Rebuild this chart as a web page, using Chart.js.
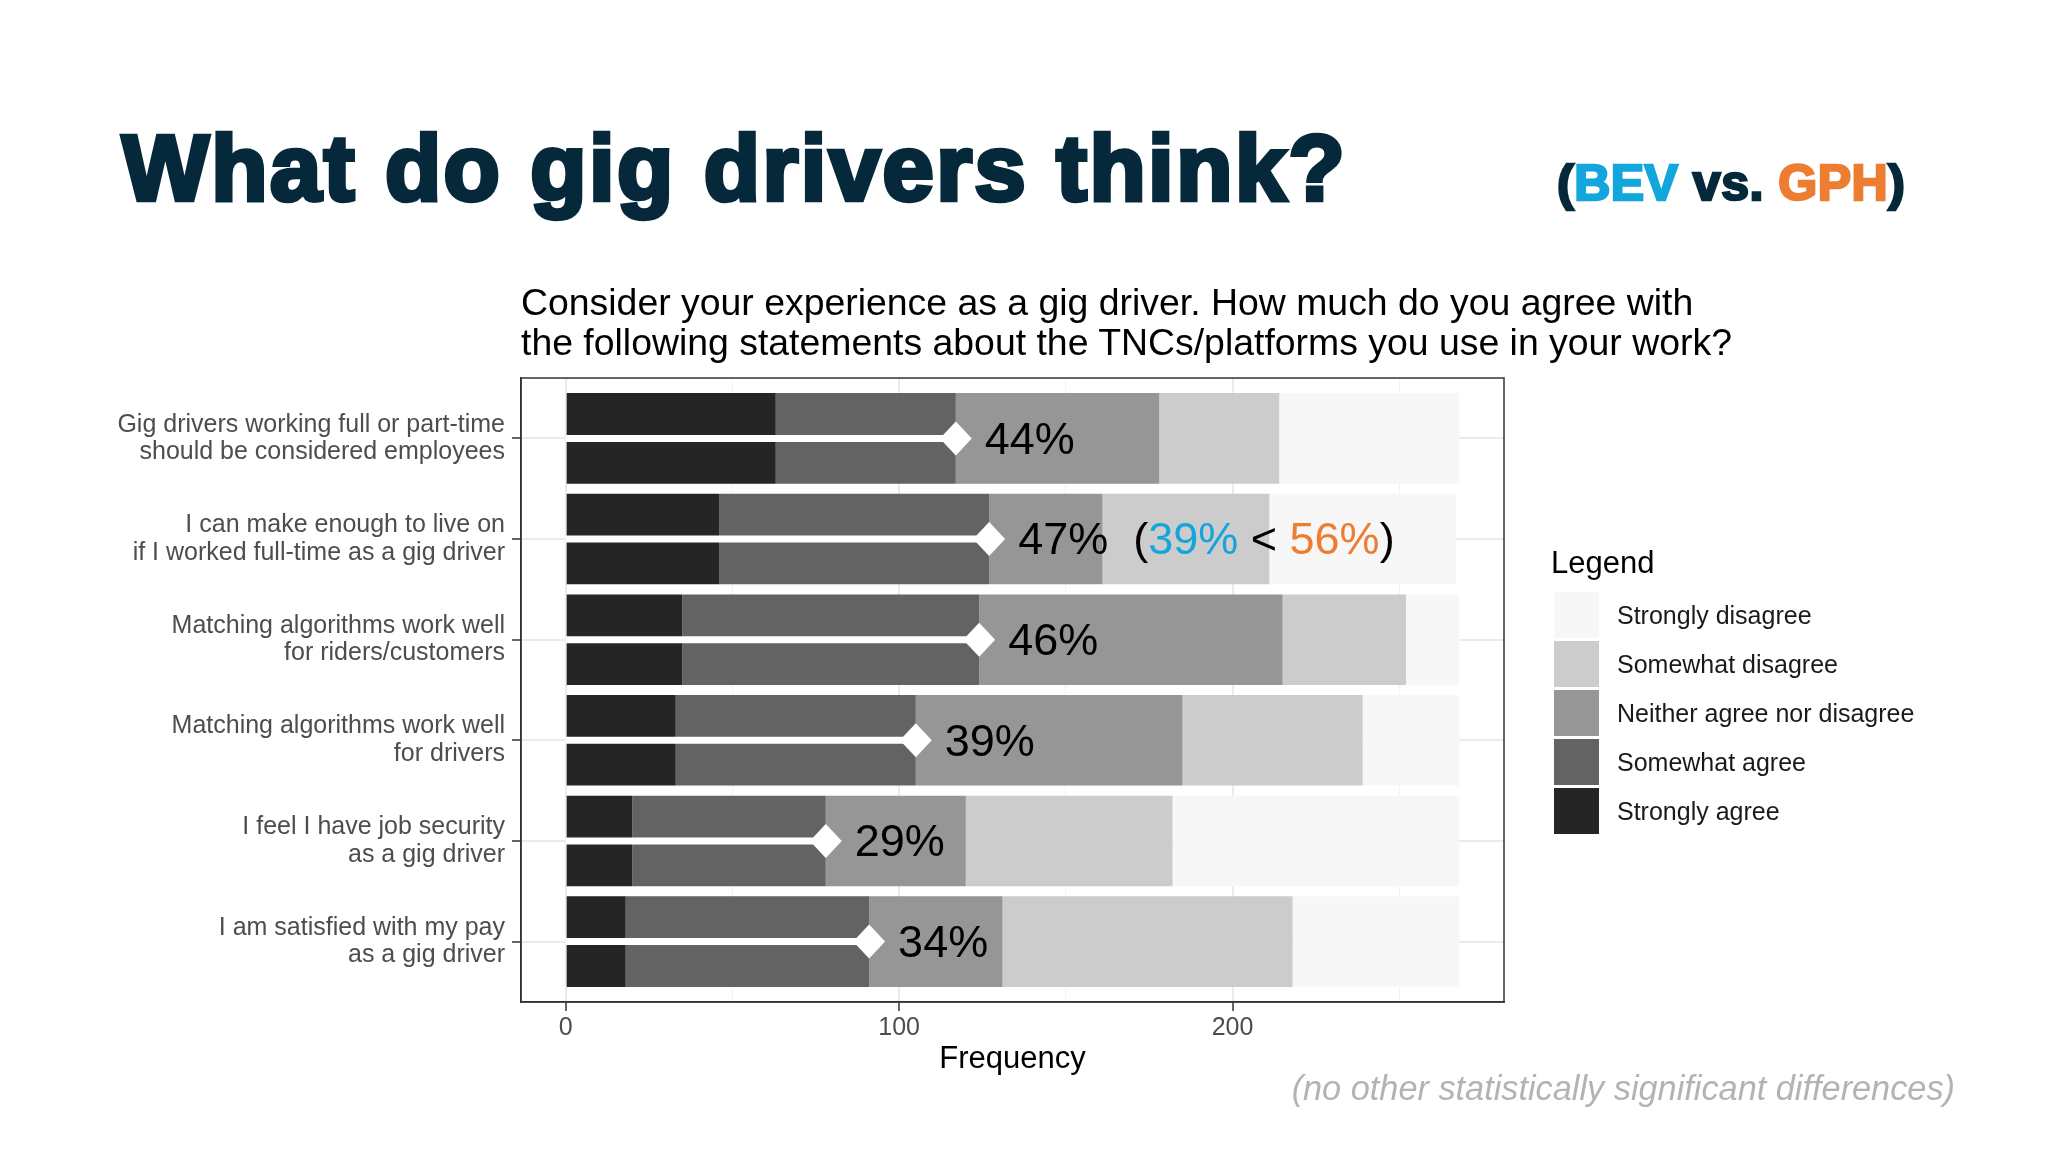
<!DOCTYPE html>
<html>
<head>
<meta charset="utf-8">
<title>What do gig drivers think?</title>
<script src="https://cdn.jsdelivr.net/npm/chart.js@4.4.1/dist/chart.umd.min.js"></script>
<style>
  html, body { margin: 0; padding: 0; background: #fff; }
  body { width: 2048px; height: 1152px; position: relative; overflow: hidden; font-family: "Liberation Sans", Arial, sans-serif; }
  #chart { position: absolute; left: 0; top: 0; }
  .title { position: absolute; left: 122px; top: 122px; font-size: 92px; line-height: 92px; font-weight: bold; color: #06283b; -webkit-text-stroke: 4.5px #06283b; letter-spacing: 2.5px; white-space: nowrap; }
  .versus { position: absolute; left: 1557px; top: 158px; font-size: 50px; line-height: 50px; font-weight: bold; color: #06283b; -webkit-text-stroke: 2.5px #06283b; letter-spacing: 0.5px; white-space: nowrap; }
  .versus .bev { color: #12a6dc; -webkit-text-stroke-color: #12a6dc; }
  .versus .gph { color: #ed7d31; -webkit-text-stroke-color: #ed7d31; }
  .question { position: absolute; left: 521px; top: 282px; font-size: 37.4px; line-height: 40px; color: #000; white-space: nowrap; }
  .legend { position: absolute; left: 1551px; top: 547px; }
  .legend-title { font-size: 31px; line-height: 31px; color: #000; margin-bottom: 14px; }
  .legend-row { display: flex; align-items: center; height: 46px; margin-bottom: 3px; margin-left: 3px; }
  .legend-box { width: 45px; height: 46px; }
  .legend-text { margin-left: 18px; font-size: 25px; line-height: 25px; color: #1a1a1a; white-space: nowrap; }
  .note { position: absolute; right: 93px; top: 1071px; font-size: 34.3px; line-height: 34px; font-style: italic; color: #b3b3b3; white-space: nowrap; }
</style>
</head>
<body>
<canvas id="chart" width="2048" height="1152"></canvas>
<div class="title">What do gig drivers think?</div>
<div class="versus">(<span class="bev">BEV</span> vs. <span class="gph">GPH</span>)</div>
<div class="question">Consider your experience as a gig driver. How much do you agree with<br>the following statements about the TNCs/platforms you use in your work?</div>
<div class="legend"><div class="legend-title">Legend</div><div id="legendItems"></div></div>
<div class="note">(no other statistically significant differences)</div>

<script>
const statements = [
  ['Gig drivers working full or part-time', 'should be considered employees'],
  ['I can make enough to live on', 'if I worked full-time as a gig driver'],
  ['Matching algorithms work well', 'for riders/customers'],
  ['Matching algorithms work well', 'for drivers'],
  ['I feel I have job security', 'as a gig driver'],
  ['I am satisfied with my pay', 'as a gig driver']
];
const responses = ['Strongly agree', 'Somewhat agree', 'Neither agree nor disagree', 'Somewhat disagree', 'Strongly disagree'];
const greys = ['#252525', '#636363', '#969696', '#cccccc', '#f7f7f7'];

const stronglyAgree = [63, 46, 35, 33, 20, 18];
const somewhatAgree = [54, 81, 89, 72, 58, 73];
const neither = [61, 34, 91, 80, 42, 40];
const somewhatDisagree = [36, 50, 37, 54, 62, 87];
const stronglyDisagree = [54, 56, 16, 29, 86, 50];

const agreePct = [44, 47, 46, 39, 29, 34];
// only the second statement differs between the groups
const splitRow = 1;
const bevPct = 39;
const gphPct = 56;
const bevColor = '#12a6dc';
const gphColor = '#ed7d31';

const xTicks = [0, 50, 100, 150, 200, 250];

window.onload = () => {
  Chart.defaults.font.family = '"Liberation Sans", Arial, sans-serif';

  const series = [stronglyAgree, somewhatAgree, neither, somewhatDisagree, stronglyDisagree];
  const datasets = series.map((values, i) => ({
    label: responses[i],
    data: values.map((v, row) => ({ x: v, y: row })),
    backgroundColor: greys[i],
    borderWidth: 0,
    barPercentage: 0.9,
    categoryPercentage: 1
  }));

  // html legend, lightest on top like the original
  const legendItems = document.getElementById('legendItems');
  responses.slice().reverse().forEach((label, i) => {
    const row = document.createElement('div');
    row.className = 'legend-row';
    const box = document.createElement('div');
    box.className = 'legend-box';
    box.style.background = greys[greys.length - 1 - i];
    const text = document.createElement('div');
    text.className = 'legend-text';
    text.textContent = label;
    row.appendChild(box);
    row.appendChild(text);
    legendItems.appendChild(row);
  });

  const agreeMarkers = {
    id: 'agreeMarkers',
    afterDatasetsDraw(chart) {
      const { ctx, scales: { x, y } } = chart;
      const x0 = x.getPixelForValue(0);
      ctx.save();
      statements.forEach((s, row) => {
        const agree = stronglyAgree[row] + somewhatAgree[row];
        const px = x.getPixelForValue(agree);
        const py = y.getPixelForValue(row);

        ctx.strokeStyle = '#fff';
        ctx.lineWidth = 7;
        ctx.beginPath();
        ctx.moveTo(x0, py);
        ctx.lineTo(px, py);
        ctx.stroke();

        ctx.fillStyle = '#fff';
        ctx.beginPath();
        ctx.moveTo(px, py - 17);
        ctx.lineTo(px + 16, py);
        ctx.lineTo(px, py + 17);
        ctx.lineTo(px - 16, py);
        ctx.closePath();
        ctx.fill();

        ctx.font = '45px "Liberation Sans", Arial, sans-serif';
        ctx.textAlign = 'left';
        ctx.textBaseline = 'middle';
        const parts = [[agreePct[row] + '%', '#000']];
        if (row === splitRow) {
          parts.push(['  (', '#000'], [bevPct + '%', bevColor], [' < ', '#000'], [gphPct + '%', gphColor], [')', '#000']);
        }
        let tx = px + 29;
        parts.forEach(([t, c]) => {
          ctx.fillStyle = c;
          ctx.fillText(t, tx, py + 3);
          tx += ctx.measureText(t).width;
        });
      });
      ctx.restore();
    }
  };

  const panelBorder = {
    id: 'panelBorder',
    afterDraw(chart) {
      const { ctx, chartArea: a } = chart;
      ctx.save();
      ctx.strokeStyle = '#333';
      ctx.lineWidth = 1.5;
      ctx.strokeRect(a.left, a.top, a.right - a.left, a.bottom - a.top);
      ctx.restore();
    }
  };

  const isMajor = (c) => c.tick && c.tick.value % 100 === 0;

  const ctx = document.getElementById('chart');
  new Chart(ctx, {
    type: 'bar',
    data: { datasets },
    options: {
      indexAxis: 'y',
      responsive: false,
      animation: false,
      layout: { padding: { left: 0, right: 544, top: 378, bottom: 70 } },
      plugins: { legend: { display: false }, tooltip: { enabled: false } },
      scales: {
        x: {
          type: 'linear',
          stacked: true,
          min: -13.4,
          max: 281.4,
          afterBuildTicks: (axis) => { axis.ticks = xTicks.map(v => ({ value: v })); },
          grid: {
            color: (c) => isMajor(c) ? '#ebebeb' : '#f3f3f3',
            lineWidth: (c) => isMajor(c) ? 2 : 1,
            tickColor: (c) => isMajor(c) ? '#333' : 'rgba(0,0,0,0)',
            tickLength: 9,
            tickWidth: 1.5
          },
          border: { color: '#333', width: 1.5 },
          ticks: {
            callback: (v) => v % 100 === 0 ? v : '',
            color: '#4d4d4d',
            font: { size: 25 },
            padding: 2,
            maxRotation: 0,
            autoSkip: false
          },
          title: { display: true, text: 'Frequency', color: '#000', font: { size: 31 }, padding: { top: 4, bottom: 4 } },
          afterFit: (s) => { s.height = 80; }
        },
        y: {
          type: 'linear',
          stacked: true,
          reverse: true,
          offset: false,
          min: -0.6,
          max: 5.6,
          afterBuildTicks: (axis) => { axis.ticks = statements.map((s, i) => ({ value: i })); },
          grid: { offset: false, color: '#ebebeb', lineWidth: 2, tickColor: '#333', tickLength: 9, tickWidth: 1.5 },
          border: { color: '#333', width: 1.5 },
          ticks: {
            callback: (v) => statements[v],
            color: '#4d4d4d',
            font: { size: 25, lineHeight: 1.1 },
            padding: 7,
            autoSkip: false
          },
          afterFit: (s) => { s.width = 521; }
        }
      }
    },
    plugins: [agreeMarkers, panelBorder]
  });
};
</script>
</body>
</html>
